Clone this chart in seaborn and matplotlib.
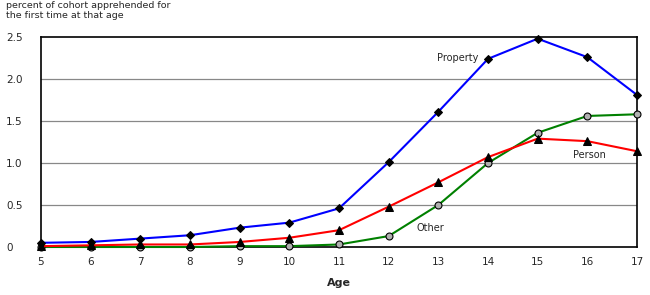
import pandas as pd
import matplotlib
matplotlib.use('Agg')
import matplotlib.pyplot as plt
import seaborn as sns

# 数据
ages = [5, 6, 7, 8, 9, 10, 11, 12, 13, 14, 15, 16, 17]
property_vals = [0.05, 0.06, 0.10, 0.14, 0.23, 0.29, 0.46, 1.01, 1.61, 2.24, 2.48, 2.26, 1.81]
person_vals = [0.01, 0.02, 0.03, 0.03, 0.06, 0.11, 0.20, 0.48, 0.77, 1.07, 1.29, 1.26, 1.14]
other_vals = [0.00, 0.00, 0.00, 0.00, 0.01, 0.01, 0.03, 0.13, 0.50, 1.00, 1.36, 1.56, 1.58]
y_ticks = [0, 0.5, 1.0, 1.5, 2.0, 2.5]
y_ticklabels = ['0', '0.5', '1.0', '1.5', '2.0', '2.5']

df = pd.DataFrame({'Age': ages, 'Property': property_vals,
                   'Person': person_vals, 'Other': other_vals})

sns.set_style('white')
plt.rcParams['font.family'] = ['DejaVu Sans']

fig = plt.figure(figsize=(6.5, 2.95), dpi=100)
ax = fig.add_axes([41 / 650, 48 / 295, 596 / 650, 210 / 295])

# 网格线
for v in y_ticks[1:-1]:
    ax.axhline(v, color='#888888', lw=0.9, zorder=0)

sns.lineplot(data=df, x='Age', y='Other', ax=ax, color='#008000', lw=1.5,
             marker='o', markersize=5, markerfacecolor='#b0b0b0',
             markeredgecolor='black', markeredgewidth=0.8, clip_on=False, zorder=3)
sns.lineplot(data=df, x='Age', y='Person', ax=ax, color='#ff0000', lw=1.5,
             marker='^', markersize=5.5, markerfacecolor='black',
             markeredgecolor='black', clip_on=False, zorder=4)
sns.lineplot(data=df, x='Age', y='Property', ax=ax, color='#0000ff', lw=1.5,
             marker='D', markersize=4, markerfacecolor='black',
             markeredgecolor='black', clip_on=False, zorder=5)

ax.set_xlim(5, 17)
ax.set_ylim(0, 2.5)
ax.set_xticks(ages)
ax.set_xticklabels([str(a) for a in ages], fontsize=7.5)
ax.set_yticks(y_ticks)
ax.set_yticklabels(y_ticklabels, fontsize=7.5)
for lab in ax.get_yticklabels():
    lab.set_ha('left')
ax.tick_params(axis='y', length=0, pad=25)
ax.tick_params(axis='x', direction='in', length=4, width=1, pad=7, color='black')

for s in ax.spines.values():
    s.set_color('black')
    s.set_linewidth(1.2)

ax.set_xlabel('Age', fontsize=8, fontweight='bold', labelpad=8)
ax.set_ylabel('')

# 系列标签
ax.text(13.8, 2.25, 'Property', fontsize=7, ha='right', va='center')
ax.text(15.72, 1.09, 'Person', fontsize=7, ha='left', va='center')
ax.text(12.57, 0.23, 'Other', fontsize=7, ha='left', va='center')

fig.text(6 / 650, 1 - 1 / 295,
         'percent of cohort apprehended for\nthe first time at that age',
         fontsize=6.8, ha='left', va='top', linespacing=1.15)

fig.savefig('out.png', dpi=100)
